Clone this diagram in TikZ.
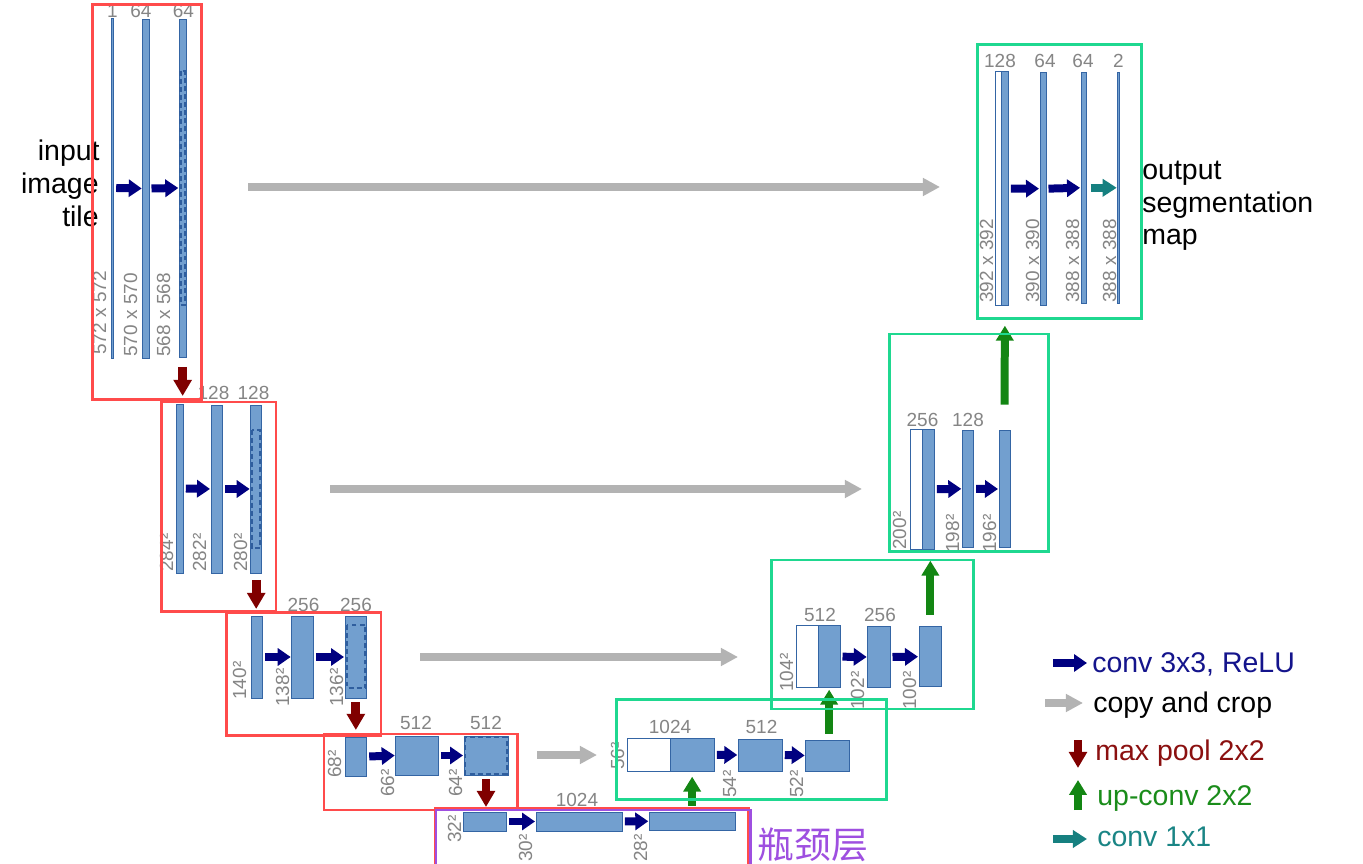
\documentclass[tikz,border=0pt]{standalone}
\usepackage{fontspec}
\setmainfont{Liberation Sans}
\newfontfamily\cjk{Noto Sans CJK SC}
\usetikzlibrary{arrows.meta,fit,calc}
\definecolor{fmfill}{HTML}{729FCF}
\definecolor{fmline}{HTML}{3465A4}
\definecolor{cropc}{HTML}{2F5E9E}
\definecolor{convc}{HTML}{000080}
\definecolor{poolc}{HTML}{800000}
\definecolor{upc}{HTML}{138613}
\definecolor{tealc}{HTML}{168080}
\definecolor{copyc}{HTML}{B3B3B3}
\definecolor{redbox}{HTML}{FF4B4B}
\definecolor{greenbox}{HTML}{1FD890}
\definecolor{purplebox}{HTML}{9E4FE0}
\definecolor{labc}{HTML}{858585}
\definecolor{convtxt}{HTML}{14148C}
\definecolor{pooltxt}{HTML}{8B1010}
\definecolor{uptxt}{HTML}{1A8C1A}
\definecolor{tealtxt}{HTML}{1A8585}
\newcommand\fmbox[6][fm]{\node[#1, fit={(#3,#4) (#5,#6)}] (#2) {};}
\tikzset{
  fm/.style={draw=fmline, fill=fmfill, line width=0.5pt, inner sep=0pt, outer sep=0pt},
  fmw/.style={draw=fmline, fill=white, line width=0.5pt, inner sep=0pt, outer sep=0pt},
  crop/.style={draw=cropc, line width=1.2pt, dash pattern=on 2.8pt off 1.8pt},
  lab/.style={text=labc, font=\fontsize{10.8}{13}\selectfont, inner sep=0pt},
  rlab/.style={lab, rotate=90, anchor=base west},
  tlab/.style={lab, anchor=base},
  conv/.style={draw=convc, line width=4.55pt, -{Triangle[length=7.4pt,width=9.7pt]}},
  pool/.style={draw=poolc, line width=5.1pt, -{Triangle[length=9.2pt,width=10pt]}},
  upconv/.style={draw=upc, line width=4.55pt, -{Triangle[length=8.5pt,width=9.7pt]}},
  onebyone/.style={draw=tealc, line width=4.55pt, -{Triangle[length=8pt,width=9.7pt]}},
  copyarr/.style={draw=copyc, line width=4.55pt, -{Triangle[length=9.7pt,width=9.7pt]}},
  redfr/.style={draw=redbox, line width=1.7pt},
  greenfr/.style={draw=greenbox, line width=1.7pt},
  purplefr/.style={draw=purplebox, line width=1.7pt},
  big/.style={font=\fontsize{16.2}{19}\selectfont, inner sep=0pt},
}
\begin{document}
\begin{tikzpicture}[x=0.02cm, y=-0.02cm]
\useasboundingbox (0,0) rectangle (1363,864);
\clip (0,0) rectangle (1363,864);
\fill[white] (0,0) rectangle (1363,864);

% ---------- contracting path ----------
\fmbox{a1}{111.7}{18}{113.7}{358}
\fmbox{a2}{142.7}{19}{149}{358}
\fmbox{a3}{179.3}{19}{186}{357}
\draw[crop] (180.5,71) rectangle (184.8,305);

\fmbox{b1}{176.7}{404}{183.3}{573}
\fmbox{b2}{211}{405}{222.7}{573}
\fmbox{b3}{250.7}{405}{261.7}{573}
\draw[crop] (252,430) rectangle (260.4,548);

\fmbox{c1}{251}{616}{262.7}{698}
\fmbox{c2}{291.7}{616}{313.3}{698}
\fmbox{c3}{345}{616}{366.7}{698}
\draw[crop] (347,625) rectangle (365.5,688);

\fmbox{d1}{345.7}{737}{366.7}{776}
\fmbox{d2}{395.7}{736}{438.3}{775}
\fmbox{d3}{464}{736}{508}{775}
\draw[crop] (465.4,737.4) rectangle (506.6,773.6);

\fmbox{e1}{463.3}{812}{506.7}{831}
\fmbox{e2}{536}{812}{622.3}{831}
\fmbox{e3}{649.3}{812.5}{735.7}{830}

% ---------- expansive path ----------
\fmbox[fmw]{f0}{627.3}{738}{670}{771.7}
\fmbox{f1}{670}{738}{714.3}{771.7}
\fmbox{f2}{738.3}{739}{782.3}{771}
\fmbox{f3}{805.7}{740}{849}{771}

\fmbox[fmw]{g0}{796}{625.7}{818.3}{687.7}
\fmbox{g1}{818.3}{625.7}{840}{687.7}
\fmbox{g2}{867.7}{626.7}{890}{687.3}
\fmbox{g3}{919}{626.7}{941.7}{686.7}

\fmbox[fmw]{h0}{910.7}{429.3}{922}{549}
\fmbox{h1}{922.5}{429.3}{934.3}{549}
\fmbox{h2}{962.3}{430}{973.7}{547.7}
\fmbox{h3}{999}{430.7}{1010}{547.3}

\fmbox[fmw]{k0}{995.7}{71.7}{1001.5}{305.7}
\fmbox{k1}{1001.5}{71.7}{1008.3}{305.7}
\fmbox{k2}{1040}{72.3}{1046}{305}
\fmbox{k3}{1081}{72.3}{1086.7}{303.3}
\fmbox{k4}{1117.7}{72.3}{1119.7}{303.3}

% ---------- conv arrows ----------
\foreach \s/\t in {a1/a2,a2/a3,b1/b2,b2/b3,c1/c2,c2/c3,d1/d2,d2/d3,e1/e2,e2/e3,f1/f2,f2/f3,g1/g2,g2/g3,h1/h2,h2/h3,k1/k2,k2/k3}
  \draw[conv] ($(\s.east)+(2.5,0)$) -- ($(\t.west)+(-1,0)$);
\draw[onebyone] ($(k3.east)+(4,0)$) -- ($(k4.west)+(-1,0)$);

% ---------- max pool ----------
\draw[pool] ($(a3.south)+(0,10)$) -- ($(a3.south)+(0,39)$);
\draw[pool] ($(b3.south)+(0,7)$) -- ($(b3.south)+(0,36)$);
\draw[pool] ($(c3.south)+(0,4)$) -- ($(c3.south)+(0,32)$);
\draw[pool] ($(d3.south)+(0,4)$) -- ($(d3.south)+(0,32)$);

% ---------- up-conv ----------
\draw[upconv] ($(f1.south)+(0,34)$) -- ($(f1.south)+(0,5)$);
\draw[upconv] ($(g1.south)+(0,46)$) -- ($(g1.south)+(0,2)$);
\draw[upconv] ($(g3.north)+(0,-12)$) -- ($(g3.north)+(0,-66)$);
\draw[upconv] ($(h3.north)+(0,-26)$) -- ($(k1.south)+(0,20)$);

% ---------- copy and crop ----------
\coordinate (cp1s) at (248,187); \coordinate (cp1e) at (940,187);
\coordinate (cp2s) at (330,489); \coordinate (cp2e) at (862,489);
\coordinate (cp3s) at (420,657); \coordinate (cp3e) at (738,657);
\coordinate (cp4s) at (537,755); \coordinate (cp4e) at (597,755);
\draw[copyarr] (cp1s) -- (cp1e);
\draw[copyarr] (cp2s) -- (cp2e);
\draw[copyarr] (cp3s) -- (cp3e);
\draw[copyarr] (cp4s) -- (cp4e);

% ---------- channel labels ----------
\node[tlab] (ta1) at (112.5,18) {1};
\node[tlab] (ta2) at (141,18) {64};
\node[tlab] (ta3) at (183.5,18) {64};
\node[tlab] (tb2) at (213.5,400) {128};
\node[tlab] (tb3) at (253.5,400) {128};
\node[tlab] (tc2) at (303.5,612) {256};
\node[tlab] (tc3) at (356,612) {256};
\node[tlab] (td2) at (416,729) {512};
\node[tlab] (td3) at (486,729) {512};
\node[tlab] (te2) at (577,806) {1024};
\node[tlab] (tf1) at (670,733) {1024};
\node[tlab] (tf2) at (761.5,733) {512};
\node[tlab] (tg1) at (820,622) {512};
\node[tlab] (tg2) at (880,622) {256};
\node[tlab] (th1) at (922.5,427) {256};
\node[tlab] (th2) at (968,427) {128};
\node[tlab] (tk1) at (1000,68) {128};
\node[tlab] (tk2) at (1045,68) {64};
\node[tlab] (tk3) at (1083,68) {64};
\node[tlab] (tk4) at (1118.5,68) {2};

% ---------- size labels ----------
\node[rlab] (ra1) at (106,355) {572 x 572};
\node[rlab] (ra2) at (137,357) {570 x 570};
\node[rlab] (ra3) at (170,357) {568 x 568};
\node[rlab] (rb1) at (173,572) {284²};
\node[rlab] (rb2) at (206,572) {282²};
\node[rlab] (rb3) at (247,572) {280²};
\node[rlab] (rc1) at (246,700) {140²};
\node[rlab] (rc2) at (289,707) {138²};
\node[rlab] (rc3) at (343,707) {136²};
\node[rlab] (rd1) at (341,778) {68²};
\node[rlab] (rd2) at (394,797) {66²};
\node[rlab] (rd3) at (462,797) {64²};
\node[rlab] (re1) at (461,843) {32²};
\node[rlab] (re2) at (532,862) {30²};
\node[rlab] (re3) at (647,862) {28²};
\node[rlab] (rf0) at (624,770) {56²};
\node[rlab] (rf2) at (736,798) {54²};
\node[rlab] (rf3) at (803,798) {52²};
\node[rlab] (rg0) at (793,692) {104²};
\node[rlab] (rg2) at (864,710) {102²};
\node[rlab] (rg3) at (916,710) {100²};
\node[rlab] (rh0) at (906,550) {200²};
\node[rlab] (rh2) at (959,553) {198²};
\node[rlab] (rh3) at (996,553) {196²};
\node[rlab] (rk0) at (993,303) {392 x 392};
\node[rlab] (rk2) at (1039,303) {390 x 390};
\node[rlab] (rk3) at (1079,303) {388 x 388};
\node[rlab] (rk4) at (1116,303) {388 x 388};

% ---------- texts ----------
\node[big, anchor=base east] (in1) at (100,161) {input};
\node[big, anchor=base east] (in2) at (99,194) {image};
\node[big, anchor=base east] (in3) at (99,227) {tile};
\node[big, anchor=base west] (out1) at (1142,180) {output};
\node[big, anchor=base west] (out2) at (1142,213) {segmentation};
\node[big, anchor=base west] (out3) at (1142,245) {map};
\node[anchor=west, inner sep=0pt, text=purplebox, font=\cjk\fontsize{21}{24}\selectfont] (bneck) at (757,845) {瓶颈层};

% ---------- frames ----------
\draw[redfr] (92.3,5) rectangle (201.7,399.5);
\draw[redfr] (161.7,402) rectangle (276,611.7);
\draw[redfr] (226.7,612.7) rectangle (381,735.7);
\draw[redfr] (324,734) rectangle (517.3,810);
\draw[redfr] (435,808.3) rectangle (748.3,890);
\draw[purplefr] (436,810) rectangle (750.5,890);
\draw[greenfr] (616.7,699.3) rectangle (886,799.3);
\draw[greenfr] (771.7,560) rectangle (973.3,709);
\draw[greenfr] (889.3,334) rectangle (1048.3,551.7);
\draw[greenfr] (977.3,45) rectangle (1141.7,318.3);

% ---------- legend ----------
\coordinate (lg1s) at (1053,663); \coordinate (lg1e) at (1087,663);
\coordinate (lg2s) at (1045,703); \coordinate (lg2e) at (1083,703);
\coordinate (lg3s) at (1078,740); \coordinate (lg3e) at (1078,768);
\coordinate (lg4s) at (1078,810); \coordinate (lg4e) at (1078,780);
\coordinate (lg5s) at (1053,839); \coordinate (lg5e) at (1087,839);
\draw[conv] (lg1s) -- (lg1e);
\draw[copyarr] (lg2s) -- (lg2e);
\draw[pool] (lg3s) -- (lg3e);
\draw[upconv] (lg4s) -- (lg4e);
\draw[onebyone] (lg5s) -- (lg5e);
\node[big, anchor=base west, text=convtxt] (lt1) at (1092,673) {conv 3x3, ReLU};
\node[big, anchor=base west, text=black] (lt2) at (1093,712) {copy and crop};
\node[big, anchor=base west, text=pooltxt] (lt3) at (1095,760) {max pool 2x2};
\node[big, anchor=base west, text=uptxt] (lt4) at (1097,805) {up-conv 2x2};
\node[big, anchor=base west, text=tealtxt] (lt5) at (1097,846) {conv 1x1};
\end{tikzpicture}
\end{document}
